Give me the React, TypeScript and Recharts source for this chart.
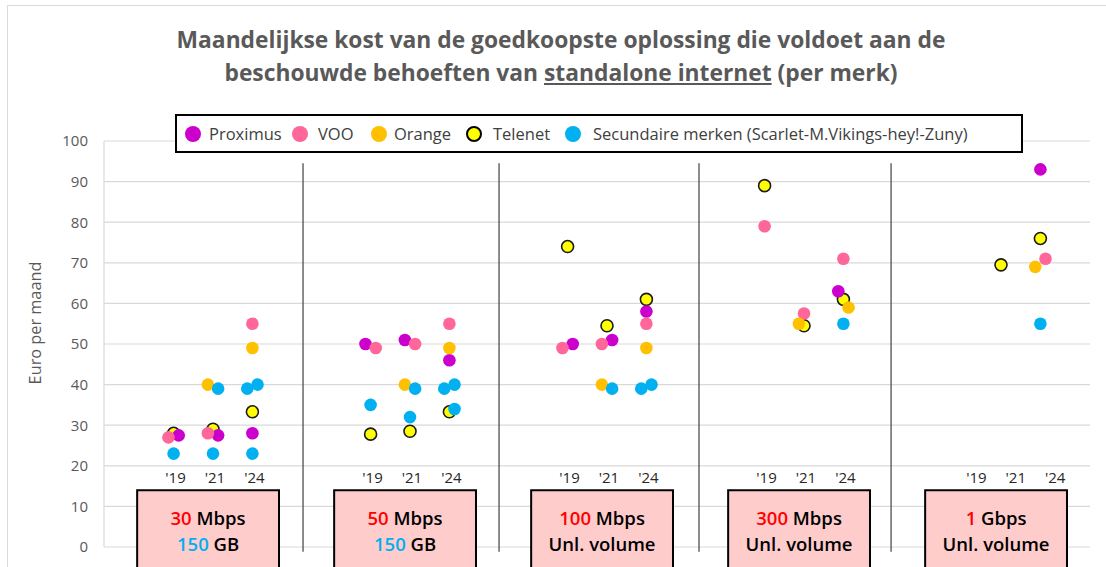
import {
  ScatterChart,
  Scatter,
  XAxis,
  YAxis,
  CartesianGrid,
  ReferenceArea,
  ReferenceLine,
} from 'recharts'

// ─── Data ─────────────────────────────────────────────────────────────────────

const speeds = ['30', '50', '100', '300', '1']
const speedUnits = ['Mbps', 'Mbps', 'Mbps', 'Mbps', 'Gbps']
const volumeValues = ['150', '150', '', '', '']
const volumeUnits = ['GB', 'GB', 'Unl. volume', 'Unl. volume', 'Unl. volume']
const years = ["'19", "'21", "'24"]
const yTicks = [0, 10, 20, 30, 40, 50, 60, 70, 80, 90, 100]

// one row per speed tier, one value per year ('19, '21, '24)
const proximus = [
  [27.5, 27.5, 28],
  [50, 51, 46],
  [50, 51, 58],
  [null, null, 63],
  [null, null, 93],
]
const voo = [
  [27, 28, 55],
  [49, 50, 55],
  [49, 50, 55],
  [79, 57.5, 71],
  [null, null, 71],
]
const orange = [
  [null, 40, 49],
  [null, 40, 49],
  [null, 40, 49],
  [null, 55, 59],
  [null, null, 69],
]
const telenet = [
  [28, 29, 33.3],
  [27.8, 28.5, 33.3],
  [74, 54.5, 61],
  [89, 54.5, 61],
  [null, 69.5, 76],
]
// several secondary brands can sit in one slot
const secundaire = [
  [[23], [39, 23], [39, 40, 23]],
  [[35], [39, 32], [39, 40, 34]],
  [[], [39], [39, 40]],
  [[], [], [55]],
  [[], [], [55]],
]

// side-step of overlapping markers (-1 left, 1 right)
const proximusNudge = [[1, 1, 0], [-1, -1, 0], [1, 1, 0], [0, 0, -1], [0, 0, 0]]
const vooNudge = [[-1, -1, 0], [1, 1, 0], [-1, -1, 0], [0, 0, 0], [0, 0, 1]]
const orangeNudge = [[0, -1, 0], [0, -1, 0], [0, -1, 0], [0, -1, 1], [0, 0, -1]]
const telenetNudge = [[0, 0, 0], [0, 0, 0], [0, 0, 0], [0, 0, 0], [0, 0, 0]]
const secundaireNudge = [
  [[0], [1, 0], [-1, 1, 0]],
  [[0], [1, 0], [-1, 1, 1]],
  [[], [1], [-1, 1]],
  [[], [], [0]],
  [[], [], [0]],
]

const brands = [
  { name: 'Proximus', color: '#CC00CC' },
  { name: 'VOO', color: '#FF6699' },
  { name: 'Orange', color: '#FFC000' },
  { name: 'Telenet', color: '#FFFF00', ring: true },
  { name: 'Secundaire merken (Scarlet-M.Vikings-hey!-Zuny)', color: '#00B0F0' },
]

// ─── Layout ───────────────────────────────────────────────────────────────────

const W = 1106
const H = 567
const FONT = '"Open Sans", "Noto Sans", sans-serif'
const X_DOMAIN: [number, number] = [-0.5533, 4.4518]
const YEAR_STEP = 0.2
const NUDGE = 0.026
const dividers = [0.457, 1.452, 2.467, 3.442]
const yearLabelShift = [0.01, 0.01, 0.01, 0.01, 0.075]
const legendDotX = [193, 300, 379, 474, 573]
const legendTextX = [209, 318, 394, 493, 593]

function slotX(g: number, yr: number, n = 0) {
  return g + (yr - 1) * YEAR_STEP + n * NUDGE
}

type Pt = { x: number; y: number; label?: string }

function toPoints(values: (number | null)[][], nudges: number[][]): Pt[] {
  const pts: Pt[] = []
  values.forEach((row, g) =>
    row.forEach((v, yr) => {
      if (v != null) pts.push({ x: slotX(g, yr, nudges[g][yr]), y: v })
    })
  )
  return pts
}

function toMultiPoints(values: number[][][], nudges: number[][][]): Pt[] {
  const pts: Pt[] = []
  values.forEach((row, g) =>
    row.forEach((vals, yr) =>
      vals.forEach((v, k) => pts.push({ x: slotX(g, yr, nudges[g][yr][k]), y: v }))
    )
  )
  return pts
}

const yearPoints: Pt[] = speeds.flatMap((_, g) =>
  years.map((label, yr) => ({ x: slotX(g, yr) + yearLabelShift[g], y: 17, label }))
)

function dot(fill: string, ring = false) {
  return (p: any) =>
    ring ? (
      <circle cx={p.cx} cy={p.cy} r={6} fill={fill} stroke="#1a1a1a" strokeWidth={1.6} />
    ) : (
      <circle cx={p.cx} cy={p.cy} r={6.3} fill={fill} />
    )
}

function yearText(p: any) {
  return (
    <text x={p.cx} y={p.cy} dy="0.35em" textAnchor="middle" fontSize={15} fill="#262626" fontFamily={FONT}>
      {p.payload.label}
    </text>
  )
}

function boxLabel(g: number) {
  return (props: any) => {
    const vb = props.viewBox
    const cx = vb.x + vb.width / 2
    const top = Math.min(vb.y, vb.y + vb.height)
    return (
      <text textAnchor="middle" fontSize={18.5} fontWeight={600} fontFamily={FONT} fill="#000">
        <tspan x={cx} y={top + 35}>
          <tspan fill="#FF0000">{speeds[g]}</tspan> {speedUnits[g]}
        </tspan>
        <tspan x={cx} y={top + 61}>
          {volumeValues[g] ? <tspan fill="#00B0F0">{volumeValues[g]} </tspan> : null}
          {volumeUnits[g]}
        </tspan>
      </text>
    )
  }
}

// ─── Component ────────────────────────────────────────────────────────────────

export default function App() {
  const proxPts = toPoints(proximus, proximusNudge)
  const vooPts = toPoints(voo, vooNudge)
  const orangePts = toPoints(orange, orangeNudge)
  const telenetPts = toPoints(telenet, telenetNudge)
  const secPts = toMultiPoints(secundaire, secundaireNudge)

  return (
    <div
      style={{
        position: 'absolute',
        left: 0,
        top: 0,
        width: W,
        height: H,
        overflow: 'hidden',
        background: '#fff',
        fontFamily: FONT,
      }}
    >
      <div
        style={{
          position: 'absolute',
          left: 7,
          top: 5,
          width: W + 20,
          height: H + 20,
          border: '1px solid #D9D9D9',
        }}
      />

      <div
        style={{
          position: 'absolute',
          left: 0,
          top: 23,
          width: 1122,
          textAlign: 'center',
          fontSize: 22.8,
          lineHeight: '33px',
          fontWeight: 700,
          color: '#595959',
          whiteSpace: 'nowrap',
        }}
      >
        Maandelijkse kost van de goedkoopste oplossing die voldoet aan de
        <br />
        beschouwde behoeften van <u>standalone internet</u> (per merk)
      </div>

      <div
        style={{
          position: 'absolute',
          left: 35,
          top: 323,
          transform: 'translate(-50%, -50%) rotate(-90deg)',
          fontSize: 16.3,
          color: '#595959',
          whiteSpace: 'nowrap',
        }}
      >
        Euro per maand
      </div>

      <ScatterChart width={W} height={H} margin={{ top: 141, right: 16, bottom: 20, left: 44 }}>
        <CartesianGrid vertical={false} stroke="#D9D9D9" strokeWidth={1.2} />
        <XAxis type="number" dataKey="x" domain={X_DOMAIN} allowDataOverflow hide />
        <YAxis
          type="number"
          dataKey="y"
          domain={[0, 100]}
          ticks={yTicks}
          width={60}
          tickLine={false}
          tickMargin={10}
          axisLine={{ stroke: '#D9D9D9', strokeWidth: 1.2 }}
          tick={{ fontSize: 15, fill: '#595959', fontFamily: FONT }}
        />
        {dividers.map((x) => (
          <ReferenceLine
            key={x}
            segment={[
              { x, y: 94.5 },
              { x, y: -1.2 },
            ]}
            stroke="#404040"
            strokeWidth={1.2}
            ifOverflow="visible"
          />
        ))}
        {speeds.map((_, g) => (
          <ReferenceArea
            key={g}
            x1={g - 0.385}
            x2={g + 0.335}
            y1={14}
            y2={-7}
            fill="#FFCCCC"
            fillOpacity={1}
            stroke="#000"
            strokeWidth={2}
            ifOverflow="visible"
            label={boxLabel(g)}
          />
        ))}
        <Scatter data={yearPoints} shape={yearText} isAnimationActive={false} />
        <Scatter name="Telenet" data={telenetPts} shape={dot('#FFFF00', true)} isAnimationActive={false} />
        <Scatter name="Proximus" data={proxPts} shape={dot('#CC00CC')} isAnimationActive={false} />
        <Scatter name="VOO" data={vooPts} shape={dot('#FF6699')} isAnimationActive={false} />
        <Scatter name="Orange" data={orangePts} shape={dot('#FFC000')} isAnimationActive={false} />
        <Scatter name="Secundaire" data={secPts} shape={dot('#00B0F0')} isAnimationActive={false} />
      </ScatterChart>

      <div
        style={{
          position: 'absolute',
          left: 175,
          top: 114,
          width: 848,
          height: 39,
          boxSizing: 'border-box',
          border: '2px solid #000',
          background: '#fff',
        }}
      />
      {brands.map((b, i) => (
        <div key={b.name}>
          <span
            style={{
              position: 'absolute',
              left: legendDotX[i] - 8,
              top: 134 - 8,
              boxSizing: 'border-box',
              width: 16,
              height: 16,
              borderRadius: '50%',
              background: b.color,
              border: b.ring ? '2px solid #000' : 'none',
            }}
          />
          <span
            style={{
              position: 'absolute',
              left: legendTextX[i],
              top: 134,
              transform: 'translateY(-50%)',
              fontSize: 16.5,
              lineHeight: '20px',
              color: '#404040',
              whiteSpace: 'nowrap',
            }}
          >
            {b.name}
          </span>
        </div>
      ))}
    </div>
  )
}
